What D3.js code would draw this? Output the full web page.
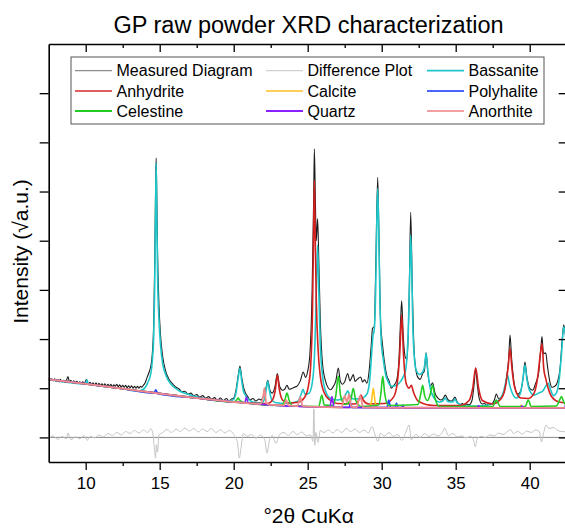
<!DOCTYPE html>
<html>
<head>
<meta charset="utf-8">
<script src="https://cdn.jsdelivr.net/npm/d3@7"></script>
<style>
  body { margin: 0; background: #fff; }
  text { font-family: "Liberation Sans", Arial, sans-serif; }
</style>
</head>
<body>
<div id="chart"></div>
<script>
// Dades llegides del gràfic: [2θ, √intensitat]
const measured = [[7.5,12.0],[7.6,11.6],[7.7,11.9],[7.8,11.5],[7.9,11.9],[8.0,11.4],[8.1,11.7],[8.2,11.3],[8.3,11.8],[8.4,11.3],[8.5,11.6],[8.6,11.2],[8.7,11.6],[8.8,12.4],[8.9,11.3],[9.0,11.6],[9.1,11.1],[9.2,11.5],[9.3,11.0],[9.4,11.4],[9.5,11.0],[9.6,11.3],[9.7,10.9],[9.8,11.3],[9.9,10.9],[10.05,11.8],[10.15,10.8],[10.3,11.2],[10.4,10.7],[10.5,11.1],[10.6,10.6],[10.7,11.1],[10.8,10.6],[10.9,11.0],[11.0,10.5],[11.1,10.9],[11.2,10.5],[11.3,10.9],[11.4,10.4],[11.5,10.8],[11.6,10.4],[11.7,10.8],[11.8,10.3],[11.9,10.7],[12.0,10.4],[12.1,10.8],[12.2,10.3],[12.3,10.7],[12.4,10.2],[12.5,10.6],[12.6,10.2],[12.7,10.6],[12.8,10.1],[12.9,10.5],[13.0,10.1],[13.1,10.5],[13.2,10.0],[13.3,10.4],[13.4,10.0],[13.5,10.4],[13.6,10.0],[13.7,10.4],[13.8,10.2],[13.9,10.6],[14.0,11.0],[14.15,12.2],[14.3,13.4],[14.4,14.5],[14.5,17],[14.6,24],[14.66,35],[14.72,50],[14.76,56.8],[14.8,50],[14.86,37],[14.95,27],[15.05,21],[15.2,16.5],[15.4,13.5],[15.6,12],[15.9,10.8],[16.1,10.2],[16.3,9.9],[16.5,9.3],[16.7,9.4],[16.9,8.8],[17.1,9.0],[17.3,8.5],[17.5,8.7],[17.7,8.2],[17.9,8.5],[18.1,8.0],[18.3,8.3],[18.5,7.8],[18.7,8.1],[18.9,7.6],[19.1,8.0],[19.3,7.5],[19.5,7.9],[19.7,7.4],[19.85,7.8],[20.0,8.0],[20.15,9.5],[20.3,12.5],[20.42,14.5],[20.55,12],[20.7,9.8],[20.8,9.0],[20.95,8.3],[21.1,7.6],[21.3,7.9],[21.5,7.4],[21.7,7.8],[21.85,7.6],[22.0,8.3],[22.15,9.5],[22.3,11.6],[22.45,9.6],[22.6,9.0],[22.8,10.5],[22.95,13.0],[23.1,10.4],[23.3,9.6],[23.45,9.8],[23.6,10.6],[23.75,9.8],[23.9,9.9],[24.1,10.2],[24.3,10.5],[24.5,11.5],[24.7,13.3],[24.85,12.2],[25.0,13.5],[25.15,17],[25.3,30],[25.4,48],[25.45,58.7],[25.52,48],[25.58,40],[25.67,44.5],[25.75,36],[25.85,24],[26.0,15],[26.2,11.5],[26.4,10.0],[26.55,9.7],[26.7,10.2],[26.9,11.5],[27.07,14.1],[27.2,11.5],[27.35,10.8],[27.5,11.3],[27.7,13.0],[27.85,11.5],[27.95,12.0],[28.08,12.8],[28.2,11.4],[28.35,11.8],[28.58,12.3],[28.7,11.3],[28.85,11.7],[29.0,11.0],[29.15,13.5],[29.3,19],[29.38,22.2],[29.5,22.5],[29.6,35],[29.73,52.9],[29.82,40],[29.92,24],[30.07,18.4],[30.2,15],[30.35,12.5],[30.5,11.5],[30.65,10.0],[30.8,10.5],[31.0,11.5],[31.15,15],[31.28,24],[31.35,27.8],[31.45,21],[31.6,16.2],[31.72,15.9],[31.85,28],[31.96,45.8],[32.07,30],[32.2,17],[32.4,12.5],[32.6,11.8],[32.77,13.0],[32.88,13.5],[33.0,17.2],[33.12,13],[33.3,10.5],[33.44,11.1],[33.6,9.0],[33.8,8.0],[34.0,7.6],[34.15,7.9],[34.3,8.6],[34.45,7.8],[34.65,7.4],[34.8,7.6],[34.95,8.2],[35.1,7.2],[35.3,6.7],[35.45,6.9],[35.6,6.5],[35.75,6.8],[35.9,6.6],[36.1,7.5],[36.25,11],[36.35,14.1],[36.45,11],[36.6,7.8],[36.8,6.8],[36.95,6.9],[37.1,6.5],[37.25,6.9],[37.4,6.8],[37.6,7.5],[37.75,8.8],[37.9,7.9],[38.1,8.2],[38.3,9.5],[38.45,12.5],[38.58,16],[38.67,20.8],[38.78,16],[38.95,11],[39.2,8.8],[39.4,9.5],[39.55,12],[39.68,15.3],[39.8,12.5],[40.0,10],[40.2,9.6],[40.4,11],[40.6,13],[40.75,18],[40.83,20.5],[40.93,17],[41.08,17.2],[41.2,14.5],[41.35,11.5],[41.5,10.2],[41.7,10.4],[41.9,11.5],[42.05,14],[42.2,20],[42.3,22.9],[42.45,20],[42.6,15]];

const difference = [[7.5,-0.2],[7.8,0.3],[8.1,-0.4],[8.4,0.2],[8.7,-0.3],[8.8,0.9],[9.0,-0.5],[9.3,0.1],[9.6,-0.3],[9.9,0.4],[10.1,-0.6],[10.3,0.2],[10.6,-0.1],[10.9,0.5],[11.2,0.1],[11.5,0.8],[11.8,0.4],[12.1,1.0],[12.4,0.5],[12.7,1.2],[13.0,0.8],[13.3,1.4],[13.6,0.9],[13.9,1.5],[14.2,1.0],[14.4,1.8],[14.55,0.5],[14.65,-2.5],[14.72,-4.2],[14.78,-1.5],[14.85,-3],[14.95,0.5],[15.2,1.0],[15.5,1.6],[15.8,1.0],[16.1,1.7],[16.4,1.2],[16.7,1.9],[17.0,1.3],[17.3,1.8],[17.6,1.1],[17.9,1.7],[18.2,1.2],[18.5,1.8],[18.8,1.0],[19.1,1.6],[19.4,0.9],[19.7,1.4],[20.0,0.6],[20.25,-1],[20.38,-4.2],[20.5,-2],[20.65,0.8],[20.9,0.2],[21.2,0.6],[21.5,-0.2],[21.8,0.5],[22.1,-0.5],[22.25,-3.2],[22.4,-0.8],[22.6,0.4],[22.85,-1.2],[23.1,0.6],[23.4,1.0],[23.7,0.4],[24.0,1.2],[24.3,0.6],[24.6,1.1],[24.9,0.3],[25.2,0.5],[25.35,-0.8],[25.42,5.8],[25.48,-1.6],[25.55,1.0],[25.7,-1.0],[25.85,1.4],[26.1,1.0],[26.4,1.5],[26.7,0.9],[27.0,1.6],[27.3,1.0],[27.6,1.8],[27.9,1.2],[28.2,1.7],[28.5,1.0],[28.8,1.5],[29.1,0.9],[29.35,2.2],[29.55,0.5],[29.75,-0.8],[29.9,0.8],[30.2,0.3],[30.5,1.0],[30.8,0.2],[31.1,0.6],[31.35,-0.6],[31.6,0.8],[31.85,2.5],[32.0,-0.5],[32.3,0.6],[32.6,0.0],[32.9,0.8],[33.2,0.2],[33.5,0.7],[33.8,0.3],[34.1,1.0],[34.25,1.9],[34.5,0.4],[34.8,0.8],[35.1,0.1],[35.4,0.3],[35.7,-0.1],[36.0,0.2],[36.2,-0.5],[36.32,-1.9],[36.45,-0.3],[36.7,0.2],[37.0,0.0],[37.3,0.5],[37.6,0.3],[37.9,0.9],[38.2,0.6],[38.5,1.2],[38.7,1.6],[38.9,0.8],[39.2,1.2],[39.5,0.7],[39.8,1.3],[40.1,1.0],[40.4,1.5],[40.65,1.2],[40.8,-0.9],[40.95,1.0],[41.1,2.5],[41.3,1.8],[41.6,2.0],[41.9,1.4],[42.2,1.2],[42.5,1.1]];

const bassanite = [[7.5,11.8],[10,10.9],[10.08,11.7],[10.18,10.9],[12.5,9.9],[13.5,9.4],[13.9,9.8],[14.2,11.2],[14.4,13],[14.5,15.5],[14.6,21],[14.66,30],[14.72,46],[14.76,55.8],[14.8,46],[14.86,32],[14.95,24],[15.05,19],[15.2,15],[15.4,12.8],[15.6,11.5],[15.9,10.4],[16.3,9.5],[17,8.7],[17.5,8.2],[18.5,7.7],[19.5,7.4],[19.95,7.6],[20.15,9],[20.3,12],[20.42,14.1],[20.54,11.5],[20.68,9.2],[20.78,8.7],[20.9,8.0],[21.3,7.2],[21.9,7.0],[22.1,8.0],[22.22,10.2],[22.3,11.4],[22.4,9.8],[22.55,7.8],[22.8,7.1],[23.5,6.9],[24.3,7.3],[24.55,8.7],[24.68,9.8],[24.82,8.8],[25.1,9.0],[25.35,12],[25.5,20],[25.6,32],[25.67,39.1],[25.75,30],[25.85,19],[26.0,12.5],[26.2,9.5],[26.5,8.0],[27.0,7.6],[27.4,7.9],[27.58,8.8],[27.7,9.5],[27.82,8.7],[28.1,7.8],[28.6,7.9],[29.0,8.8],[29.2,12],[29.32,17],[29.4,20.4],[29.5,22],[29.6,31],[29.67,44],[29.73,50.6],[29.8,42],[29.88,28],[29.98,19],[30.1,16],[30.25,13],[30.45,11.2],[30.7,10.4],[31.0,10.6],[31.3,11.5],[31.6,13.5],[31.8,22],[31.9,34],[31.96,41.1],[32.03,34],[32.12,21],[32.3,14],[32.55,12.8],[32.8,13.5],[32.92,15],[33.0,17.1],[33.1,14],[33.25,10.5],[33.5,8.2],[33.9,7.2],[34.15,7.5],[34.3,8.0],[34.45,7.3],[34.8,7.2],[34.95,7.8],[35.1,7.0],[35.6,6.4],[36.5,6.4],[37.5,6.8],[38.0,7.8],[38.25,9.5],[38.4,11.5],[38.5,12.7],[38.62,11],[38.8,9.2],[39.1,8.0],[39.35,8.8],[39.55,12],[39.68,14.7],[39.8,12],[40.0,9.5],[40.3,8.6],[40.6,9.0],[40.9,9.5],[41.1,10.5],[41.25,11],[41.4,9.8],[41.6,8.5],[41.8,9],[42.0,12],[42.15,17],[42.3,22.5],[42.45,20],[42.6,15]];

const anhydrite = [[7.5,11.8],[10,10.9],[12.5,9.9],[15,8.9],[17.5,8.0],[20,7.2],[22.3,6.9],[22.65,7.8],[22.82,9.8],[22.95,12.7],[23.08,9.8],[23.3,7.6],[23.8,7.0],[24.4,7.2],[24.8,8.2],[25.05,10.5],[25.2,14.5],[25.32,25],[25.4,42],[25.45,52.3],[25.5,42],[25.58,28],[25.7,18],[25.85,12.5],[26.1,9.2],[26.5,7.6],[27,6.9],[28.2,6.8],[28.45,7.6],[28.6,8.6],[28.75,7.6],[29.1,6.8],[30.2,6.9],[30.8,8.2],[31.05,11],[31.22,17],[31.35,24.9],[31.47,17],[31.65,11],[31.85,10],[32.0,10.6],[32.15,9.2],[32.5,7.3],[33.5,6.5],[35.3,6.5],[35.9,7.5],[36.15,10],[36.35,14.1],[36.55,10],[36.8,7.5],[37.5,6.8],[38.1,8.0],[38.4,11],[38.55,14.5],[38.67,18.1],[38.8,14],[39.0,10],[39.4,8.0],[39.9,7.9],[40.3,9],[40.55,12.5],[40.7,16.5],[40.83,19.1],[40.95,14],[41.08,12.0],[41.2,10.5],[41.5,8.2],[42.0,7.2],[42.6,7.0]];

const celestine = [[7.5,11.8],[12.5,9.9],[17.5,8.0],[20,7.2],[20.2,7.6],[20.3,8.0],[20.4,7.6],[20.7,7.1],[23.2,6.5],[23.45,7.5],[23.6,9.0],[23.75,7.5],[24.0,6.4],[25.75,6.3],[25.95,8.6],[26.12,6.6],[26.7,6.5],[26.9,8.5],[27.07,12.5],[27.22,8.5],[27.5,6.7],[27.9,7.5],[28.08,10.0],[28.25,7.5],[28.6,6.3],[29.8,6.6],[29.95,9],[30.07,12.5],[30.2,9],[30.45,6.5],[32.45,6.7],[32.65,9],[32.77,10.6],[32.9,8.5],[33.1,7.5],[33.3,9],[33.44,10.6],[33.6,8],[33.9,6.3],[37.5,6.3],[37.75,7.6],[38.0,6.3],[39.7,6.3],[39.9,7.6],[40.1,6.3],[41.8,6.4],[42.05,7.8],[42.15,8.3],[42.3,7.2],[42.6,6.3]];

const calcite = [[7.5,11.8],[12.5,9.9],[17.5,8.0],[20,7.2],[22.5,6.6],[25,6.25],[29.2,6.07],[29.32,7.5],[29.43,10.0],[29.54,7.5],[29.66,6.05],[39.35,6.0],[39.42,6.6],[39.49,6.0],[42.6,6.0]];

const polyhalite = [[7.5,11.8],[12.5,9.9],[14.6,9.0],[14.74,9.7],[14.88,8.9],[17.5,8.0],[20,7.2],[22.5,6.6],[25,6.25],[27.8,6.1],[27.9,7.0],[28.0,6.1],[30.35,6.05],[30.48,7.6],[30.6,6.05],[30.9,6.05],[31.0,7.0],[31.1,6.05],[31.35,6.05],[31.43,6.6],[31.5,6.0],[42.6,6.0]];

const quartz = [[7.5,11.8],[12.5,9.9],[17.5,8.0],[20,7.2],[20.75,7.05],[20.86,8.2],[20.97,7.0],[22.5,6.6],[25,6.25],[26.5,6.15],[26.64,8.3],[26.78,6.13],[30,6.05],[36.45,6.0],[36.55,6.5],[36.65,6.0],[39.4,6.0],[39.48,6.4],[39.56,6.0],[42.35,6.0],[42.45,6.7],[42.6,6.0]];

const anorthite = [[7.5,11.8],[10,10.9],[12.5,9.9],[15,8.9],[17.5,8.0],[20,7.2],[21.8,6.8],[22.0,8.5],[22.08,10],[22.2,7.0],[22.5,6.6],[23.4,6.5],[23.55,7.6],[23.7,6.5],[24.3,6.35],[24.5,8.2],[24.65,6.4],[25,6.25],[27.3,6.1],[27.5,8.5],[27.65,7.2],[27.8,8.8],[27.95,6.2],[28.3,6.1],[28.55,8.5],[28.75,6.1],[30,6.05],[42.6,6.0]];

const xTicks = [10, 15, 20, 25, 30, 35, 40];
const xMinorTicks = [12.5, 17.5, 22.5, 27.5, 32.5, 37.5];
const yTicks = [0, 10, 20, 30, 40, 50, 60, 70];

// Sèries (ordre de la llegenda, per files)
const series = [
  { name: "Measured Diagram", data: measured, color: "#1c1c1c", legendColor: "#8c8c8c", width: 1.1 },
  { name: "Difference Plot", data: difference, color: "#c4c4c4", legendColor: "#d0d0d0", width: 1 },
  { name: "Bassanite", data: bassanite, color: "#1ec6c9", legendColor: "#1ec6c9", width: 1.6 },
  { name: "Anhydrite", data: anhydrite, color: "#d41f1f", legendColor: "#dc6060", width: 1.6 },
  { name: "Calcite", data: calcite, color: "#ffc21f", legendColor: "#ffcf5a", width: 1.6 },
  { name: "Polyhalite", data: polyhalite, color: "#2442ff", legendColor: "#4a64ff", width: 1.6 },
  { name: "Celestine", data: celestine, color: "#22cc22", legendColor: "#22cc22", width: 1.6 },
  { name: "Quartz", data: quartz, color: "#8a1fff", legendColor: "#8a1fff", width: 1.6 },
  { name: "Anorthite", data: anorthite, color: "#f08a8a", legendColor: "#f4a0a0", width: 1.8 }
];

// Dimensions
const W = 565, H = 528;
const plot = { left: 48.7, right: 566.7, top: 44, bottom: 462 };

const svg = d3.select("#chart")
  .append("svg")
    .attr("width", W)
    .attr("height", H);

const x = d3.scaleLinear().domain([7.5, 42.5]).range([plot.left, plot.right]);
const y = d3.scaleLinear().domain([-5, 80]).range([plot.bottom, plot.top]);

svg.append("defs").append("clipPath")
    .attr("id", "clip")
  .append("rect")
    .attr("x", plot.left).attr("y", plot.top)
    .attr("width", plot.right - plot.left)
    .attr("height", plot.bottom - plot.top);

const line = d3.line()
  .x(d => x(d[0]))
  .y(d => y(d[1]))
  .curve(d3.curveMonotoneX);

const curves = svg.append("g").attr("clip-path", "url(#clip)");

// Línia del zero del diagrama de diferències
curves.append("line")
  .attr("x1", plot.left).attr("x2", plot.right)
  .attr("y1", y(0)).attr("y2", y(0))
  .attr("stroke", "#8a8a8a")
  .attr("stroke-width", 1);

// Diferència, mesura i fases
curves.selectAll("path.serie")
  .data([series[1], series[0]].concat(series.slice(2)))
  .enter()
  .append("path")
    .attr("class", "serie")
    .attr("d", d => line(d.data))
    .attr("fill", "none")
    .attr("stroke", d => d.color)
    .attr("stroke-width", d => d.width)
    .attr("stroke-linejoin", "round");

// Eixos
const axisStyle = g => {
  g.selectAll(".domain").attr("stroke", "#000").attr("stroke-width", 1.6);
  g.selectAll(".tick line").attr("stroke", "#000").attr("stroke-width", 1.3);
};

svg.append("g")
  .attr("transform", `translate(0,${plot.bottom})`)
  .call(d3.axisBottom(x).tickValues(xTicks).tickSizeInner(8).tickSizeOuter(0).tickPadding(7))
  .call(axisStyle)
  .call(g => g.selectAll("text").attr("font-size", 17).attr("fill", "#000")
    .style("font-family", "'Liberation Sans', Arial, sans-serif"));

svg.append("g")
  .attr("transform", `translate(0,${plot.bottom})`)
  .call(d3.axisBottom(x).tickValues(xMinorTicks).tickSize(4).tickFormat(""))
  .call(axisStyle)
  .call(g => g.select(".domain").remove());

svg.append("g")
  .attr("transform", `translate(0,${plot.top})`)
  .call(d3.axisTop(x).tickValues(xTicks).tickSizeInner(-8).tickSizeOuter(0).tickFormat(""))
  .call(axisStyle);

svg.append("g")
  .attr("transform", `translate(0,${plot.top})`)
  .call(d3.axisTop(x).tickValues(xMinorTicks).tickSize(-4).tickFormat(""))
  .call(axisStyle)
  .call(g => g.select(".domain").remove());

svg.append("g")
  .attr("transform", `translate(${plot.left},0)`)
  .call(d3.axisLeft(y).tickValues(yTicks).tickSizeInner(9).tickSizeOuter(0).tickFormat(""))
  .call(axisStyle);

svg.append("g")
  .attr("transform", `translate(${plot.right},0)`)
  .call(d3.axisRight(y).tickValues(yTicks).tickSizeInner(-8).tickSizeOuter(0).tickFormat(""))
  .call(axisStyle);

// Títols
svg.append("text")
  .attr("x", 308.5).attr("y", 33)
  .attr("text-anchor", "middle")
  .style("font-size", "23.5px")
  .text("GP raw powder XRD characterization");

svg.append("text")
  .attr("x", 308.7).attr("y", 523)
  .attr("text-anchor", "middle")
  .style("font-size", "21px")
  .text("°2θ CuKα");

svg.append("text")
  .attr("transform", "translate(27.5,251.5) rotate(-90)")
  .attr("text-anchor", "middle")
  .style("font-size", "21px")
  .text("Intensity (√a.u.)");

// Llegenda
const legend = svg.append("g");
legend.append("rect")
  .attr("x", 71).attr("y", 57)
  .attr("width", 473).attr("height", 67)
  .attr("fill", "#fff")
  .attr("stroke", "#555")
  .attr("stroke-width", 1);

const colX = [75, 266, 427];
const rowY = [70.7, 91, 111];

const items = legend.selectAll("g.item")
  .data(series)
  .enter()
  .append("g")
    .attr("class", "item")
    .attr("transform", (d, i) => `translate(${colX[i % 3]},${rowY[Math.floor(i / 3)]})`);

items.append("line")
  .attr("x1", 0).attr("x2", 37)
  .attr("stroke", d => d.legendColor)
  .attr("stroke-width", d => d.width + 0.2);

items.append("text")
  .attr("x", 41.5)
  .attr("dy", "0.36em")
  .style("font-size", "16px")
  .text(d => d.name);
</script>
</body>
</html>
